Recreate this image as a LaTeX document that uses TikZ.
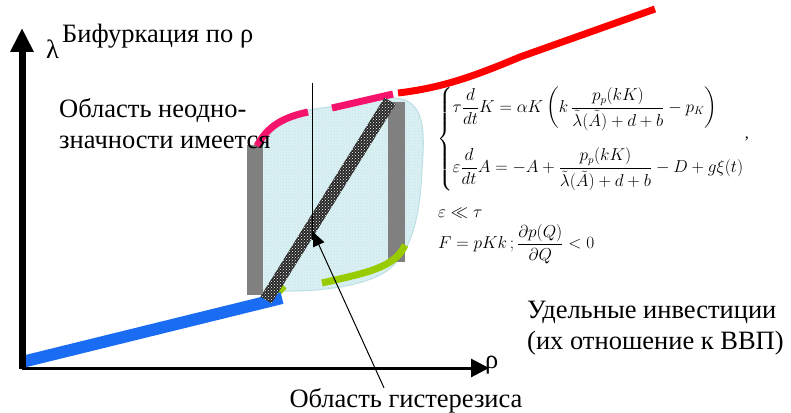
\documentclass[tikz,border=0pt]{standalone}
\usepackage{amsmath}
\usepackage{fontspec}
\setmainfont{Liberation Serif}
\usetikzlibrary{arrows.meta,positioning,patterns}
\definecolor{hystpink}{HTML}{F5136B}
\definecolor{hystred}{HTML}{FF0000}
\definecolor{lowblue}{HTML}{1A6CF2}
\definecolor{hystgreen}{HTML}{99CC00}
\definecolor{zonefill}{HTML}{DCF1F3}
\definecolor{zoneline}{HTML}{BCDFE5}
\definecolor{jumpgray}{HTML}{808080}

\begin{document}
\begin{tikzpicture}[x=1pt,y=-1pt,
  lbl/.style={font=\fontsize{26.5}{31}\selectfont,inner sep=0pt},
  eqn/.style={font=\fontsize{16}{19}\selectfont,inner sep=0pt},
  branch/.style={line width=7pt},
  jump/.style={fill=jumpgray},
]
\useasboundingbox (0,0) rectangle (791,412);

% hysteresis zone
\path[fill=zonefill,draw=zoneline,line width=1pt,
  postaction={pattern=crosshatch dots,pattern color=zoneline}]
  (262,290) -- (262,135) .. controls (285,115) and (300,110) .. (330,107)
  -- (395,98) .. controls (425,100) and (425,130) .. (422,170)
  .. controls (420,220) and (410,260) .. (380,275)
  .. controls (350,290) and (300,293) .. (262,290) -- cycle;

% jumps
\fill[jump] (247,145) rectangle (263,295);
\fill[jump] (388,102) rectangle (405,262);

% branches
\draw[branch,hystpink] (257,146) .. controls (268,125) and (285,117) .. (308,112);
\draw[branch,hystpink] (332,108) -- (393,94);
\draw[branch,hystred] (398,93) .. controls (440,88) and (470,78) .. (520,57) -- (655,9);
\draw[branch,hystgreen] (322,283) .. controls (365,273) and (395,268) .. (405,245);
\draw[branch,hystgreen] (273,298) -- (284,286);
\draw[line width=12pt,lowblue] (22,362) -- (282,298);

% unstable branch
\fill[black!85] (271.5,303.4) -- (260.5,296.6) -- (384.5,97.6) -- (395.5,104.4) -- cycle;
\fill[pattern=crosshatch dots,pattern color=white] (271.5,303.4) -- (260.5,296.6) -- (384.5,97.6) -- (395.5,104.4) -- cycle;

\draw[line width=1pt] (312,83) -- (312,240);

% axes
\coordinate (orig) at (22,369);
\coordinate (ytip) at (22,28);
\coordinate (xtip) at (489,368);
\draw[line width=7pt,-{Triangle[length=24pt,width=22pt]}] (orig) -- (ytip);
\draw[line width=3pt,-{Triangle[length=18pt,width=18pt]}] (22,368) -- (xtip);

% labels
\node[lbl,anchor=base west] (lam) at (46,58) {λ};
\node[lbl,anchor=base west] (bif) at (62,42) {Бифуркация по ρ};
\node[lbl,anchor=west,align=left] (ambig) at (59,124) {Область неодно-\\значности имеется};
\node[lbl,anchor=base west] (rho) at (485,368) {ρ};
\node[lbl,anchor=west,align=left] (invest) at (527,328) {Удельные инвестиции\\(их отношение к ВВП)};
\node[lbl,anchor=base] (hyst) at (406,407) {Область гистерезиса};
\coordinate (hystpt) at (313,232);
\draw[line width=1pt,-{Triangle[length=14pt,width=12pt]}] ([xshift=-22pt]hyst.north) -- (hystpt);

% model
\node[eqn,anchor=north west] (sys) at (437,87) {$\left\{\begin{array}{@{}l@{}}
  \tau\dfrac{d}{dt}K=\alpha K\left(k\,\dfrac{p_p(kK)}{\tilde\lambda(\tilde A)+d+b}-p_K\right)\\[30pt]
  \varepsilon\dfrac{d}{dt}A=-A+\dfrac{p_p(kK)}{\tilde\lambda(\tilde A)+d+b}-D+g\xi(t)
  \end{array}\right.$};
\node[eqn,right=0pt of sys] (comma) {,};
\node[eqn,anchor=west] (ll) at (438,213) {$\varepsilon\ll\tau$};
\node[eqn,anchor=west] (cond) at (438,244) {$F=pKk\,;\dfrac{\partial p(Q)}{\partial Q}<0$};
\end{tikzpicture}
\end{document}
